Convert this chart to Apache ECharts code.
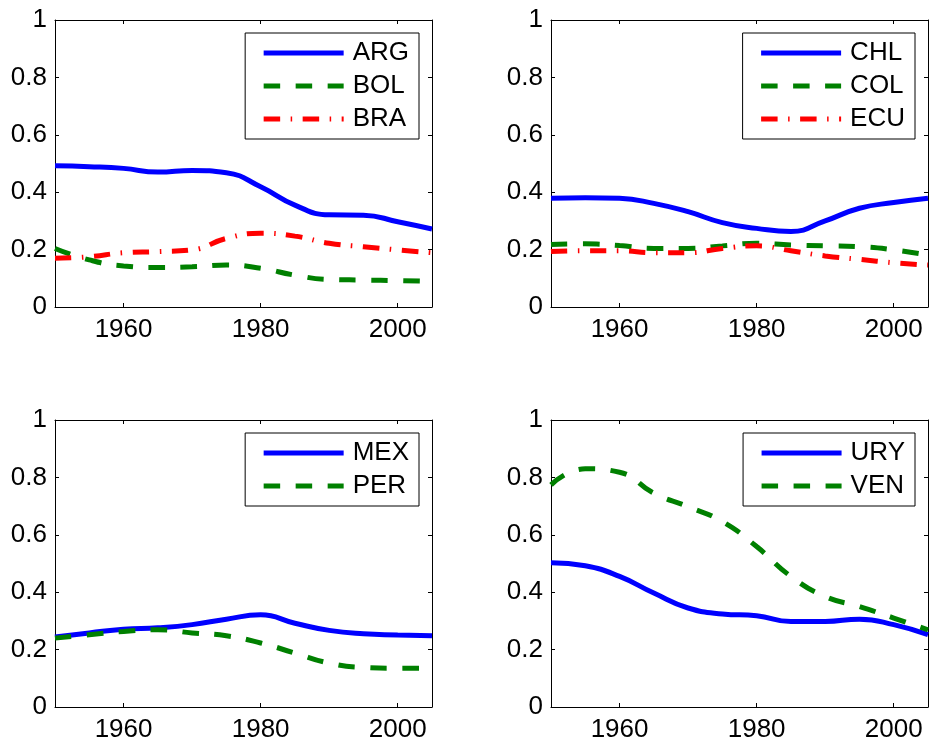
<!DOCTYPE html>
<html>
<head>
<meta charset="utf-8">
<script src="https://cdn.jsdelivr.net/npm/echarts@6/dist/echarts.min.js"></script>
<style>
  html, body { margin: 0; padding: 0; background: #fff; }
  #chart { width: 930px; height: 750px; }
</style>
</head>
<body>
<div id="chart"></div>
<script>
// ---- Data ----
const years = [1950, 1955, 1960, 1965, 1970, 1975, 1980, 1985, 1990, 1995, 2000, 2005];
const xTickValues = [1960, 1980, 2000];

const panel1Names = ['ARG', 'BOL', 'BRA'];
const ARG = [0.492, 0.489, 0.483, 0.470, 0.476, 0.468, 0.419, 0.355, 0.321, 0.320, 0.297, 0.272];
const BOL = [0.204, 0.164, 0.143, 0.138, 0.140, 0.146, 0.135, 0.111, 0.096, 0.094, 0.092, 0.089];
const BRA = [0.170, 0.175, 0.189, 0.193, 0.199, 0.239, 0.257, 0.247, 0.222, 0.210, 0.199, 0.189];

const panel2Names = ['CHL', 'COL', 'ECU'];
const CHL = [0.379, 0.381, 0.379, 0.361, 0.332, 0.294, 0.274, 0.263, 0.300, 0.344, 0.364, 0.379];
const COL = [0.218, 0.220, 0.214, 0.204, 0.204, 0.213, 0.222, 0.216, 0.213, 0.210, 0.199, 0.181];
const ECU = [0.193, 0.196, 0.196, 0.189, 0.189, 0.204, 0.213, 0.196, 0.178, 0.166, 0.154, 0.146];

const panel3Names = ['MEX', 'PER'];
const MEX = [0.244, 0.258, 0.271, 0.276, 0.287, 0.306, 0.321, 0.292, 0.267, 0.255, 0.251, 0.248];
const PER = [0.240, 0.252, 0.263, 0.269, 0.258, 0.248, 0.223, 0.188, 0.153, 0.138, 0.135, 0.136];

const panel4Names = ['URY', 'VEN'];
const URY = [0.503, 0.492, 0.455, 0.397, 0.345, 0.324, 0.318, 0.298, 0.298, 0.306, 0.287, 0.252];
const VEN = [0.774, 0.830, 0.818, 0.745, 0.698, 0.646, 0.559, 0.455, 0.385, 0.350, 0.310, 0.269];

// ---- Styling ----
const FONT = 'Liberation Sans, Arial, Helvetica, sans-serif';
const FS = 26;
const styles = [
  { color: '#0000ff', type: 'solid' },
  { color: '#008000', type: [16.5, 15.5] },
  { color: '#ff0000', type: [16.5, 10.5, 1.5, 10.5] }
];

const panels = [
  { names: panel1Names, values: [ARG, BOL, BRA], grid: { left: 55, top: 20 }, legendRight: 511, legendTop: 33 },
  { names: panel2Names, values: [CHL, COL, ECU], grid: { left: 551, top: 20 }, legendRight: 15, legendTop: 33 },
  { names: panel3Names, values: [MEX, PER], grid: { left: 55, top: 420 }, legendRight: 511, legendTop: 433 },
  { names: panel4Names, values: [URY, VEN], grid: { left: 551, top: 420 }, legendRight: 15, legendTop: 433 }
];

const grids = [], xAxes = [], yAxes = [], series = [], legends = [];

panels.forEach((p, i) => {
  grids.push({ left: p.grid.left, top: p.grid.top, width: 377, height: 287, containLabel: false });
  const xBase = {
    type: 'value', gridIndex: i, min: 1950, max: 2005,
    axisLine: { show: true, onZero: false, lineStyle: { color: '#000', width: 1 } },
    axisTick: { show: true, inside: true, length: 4, customValues: xTickValues, lineStyle: { color: '#000', width: 1 } },
    splitLine: { show: false }
  };
  xAxes.push(Object.assign({}, xBase, {
    position: 'bottom',
    axisLabel: { show: true, customValues: xTickValues, fontSize: FS, color: '#000', fontFamily: FONT, margin: 10,
      formatter: v => String(v) }
  }));
  xAxes.push(Object.assign({}, xBase, { position: 'top', axisLabel: { show: false } }));
  const yBase = {
    type: 'value', gridIndex: i, min: 0, max: 1, interval: 0.2,
    axisLine: { show: true, onZero: false, lineStyle: { color: '#000', width: 1 } },
    axisTick: { show: true, inside: true, length: 4, lineStyle: { color: '#000', width: 1 } },
    splitLine: { show: false }
  };
  yAxes.push(Object.assign({}, yBase, {
    position: 'left',
    axisLabel: { show: true, fontSize: FS, color: '#000', fontFamily: FONT, margin: 8,
      formatter: v => String(Math.round(v * 10) / 10) }
  }));
  yAxes.push(Object.assign({}, yBase, { position: 'right', axisLabel: { show: false } }));

  p.names.forEach((name, k) => {
    series.push({
      name: name, type: 'line', xAxisIndex: 2 * i, yAxisIndex: 2 * i,
      data: years.map((yr, j) => [yr, p.values[k][j]]),
      showSymbol: false, symbol: 'none', smooth: 0.5,
      lineStyle: { color: styles[k].color, width: 5, type: styles[k].type, cap: 'butt' },
      itemStyle: { color: styles[k].color },
      emphasis: { disabled: true }, silent: true
    });
  });

  legends.push({
    data: p.names, orient: 'vertical', right: p.legendRight, top: p.legendTop,
    itemWidth: 80, itemHeight: 26, itemGap: 7,
    padding: [7, 10, 7, 16],
    borderColor: '#000', borderWidth: 1, backgroundColor: '#fff',
    selectedMode: false,
    textStyle: { fontSize: FS, color: '#000', fontFamily: FONT, padding: [0, 0, 0, 4] },
    itemStyle: { color: 'rgba(0,0,0,0)', borderWidth: 0, opacity: 0 },
    lineStyle: { width: 5, type: 'inherit', opacity: 1 }
  });
});

const chart = echarts.init(document.getElementById('chart'), null, { renderer: 'canvas' });
chart.setOption({
  animation: false,
  backgroundColor: '#fff',
  grid: grids, xAxis: xAxes, yAxis: yAxes, series: series, legend: legends
});
</script>
</body>
</html>
